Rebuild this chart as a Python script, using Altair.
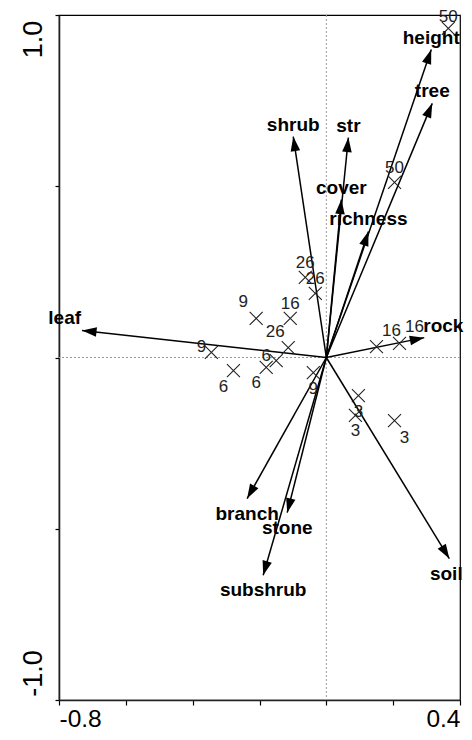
import altair as alt
import pandas as pd

# ---------------- data ----------------
arrow_names = ["height", "tree", "shrub", "str", "cover", "richness",
               "leaf", "rock", "branch", "stone", "subshrub", "soil"]
arrow_x = [0.314, 0.317, -0.099, 0.066, 0.045, 0.126,
           -0.731, 0.293, -0.237, -0.117, -0.189, 0.368]
arrow_y = [0.899, 0.742, 0.645, 0.642, 0.461, 0.368,
           0.079, 0.058, -0.412, -0.453, -0.636, -0.587]
arrow_label_side = ["above", "above", "above", "above", "above", "above",
                    "left", "right", "below", "below", "below", "below_left"]

site_x = [0.365, 0.204, -0.063, -0.033, -0.210, -0.108, -0.114, -0.344, -0.150,
          -0.180, -0.278, -0.039, 0.150, 0.219, 0.096, 0.087, 0.204]
site_y = [0.961, 0.511, 0.234, 0.187, 0.114, 0.114, 0.029, 0.015, -0.009,
          -0.029, -0.038, -0.044, 0.032, 0.041, -0.111, -0.169, -0.184]
site_label = ["50", "50", "26", "26", "9", "16", "26", "9", "6",
              "6", "6", "9", "16", "16", "3", "3", "3"]
site_label_side = ["n", "N", "N", "N", "NW", "N", "NW", "W", "W",
                   "SW", "SW", "S", "NE", "NE", "S", "S", "SE"]

x_ticks = [-0.8, -0.6, -0.4, -0.2, 0.0, 0.2, 0.4]
x_tick_labels = ["-0.8", "", "", "", "", "", "0.4"]
y_ticks = [-1.0, -0.5, 0.0, 0.5, 1.0]
y_tick_labels = ["-1.0", "", "", "", "1.0"]

# ---------------- layout / style ----------------
W, H = 401, 685
XDOM = [x_ticks[0], x_ticks[-1]]
YDOM = [y_ticks[0], y_ticks[-1]]
FONT = "Liberation Sans"

arrows = pd.DataFrame({"name": arrow_names, "x": arrow_x, "y": arrow_y,
                       "side": arrow_label_side})
arrows["x0"] = 0.0
arrows["y0"] = 0.0
sites = pd.DataFrame({"x": site_x, "y": site_y, "label": site_label,
                      "side": site_label_side})
zero = pd.DataFrame({"z": [0.0]})


def lab_expr(ticks, labels):
    expr = "''"
    for t, l in zip(ticks, labels):
        if l:
            expr = f"abs(datum.value - ({t})) < 1e-6 ? '{l}' : ({expr})"
    return expr


xaxis = alt.Axis(values=x_ticks, labelExpr=lab_expr(x_ticks, x_tick_labels),
                 tickSize=5, tickColor="black", tickWidth=1.2,
                 domainColor="#222", domainWidth=1.6,
                 labelFont=FONT, labelFontSize=24.5, labelColor="black",
                 labelFlush=True, labelPadding=2, labelOverlap=False, grid=False)
yaxis = alt.Axis(values=y_ticks, labelExpr=lab_expr(y_ticks, y_tick_labels),
                 tickSize=4, tickColor="black", tickWidth=1.2,
                 domainColor="#222", domainWidth=1.6,
                 labelFont=FONT, labelFontSize=27, labelColor="black",
                 labelAngle=270, labelAlign="center", labelBaseline="bottom",
                 labelPadding=8, labelOverlap=False, grid=False,
                 labelOffset={"condition": {"test": "datum.value > 0", "value": 24},
                              "value": -27})

xscale = alt.Scale(domain=XDOM, nice=False, zero=False)
yscale = alt.Scale(domain=YDOM, nice=False, zero=False)


def X(f):
    return alt.X(f, type="quantitative", scale=xscale, axis=xaxis, title=None)


def Y(f):
    return alt.Y(f, type="quantitative", scale=yscale, axis=yaxis, title=None)


vzero = alt.Chart(zero).mark_rule(color="#999", strokeWidth=1, strokeDash=[2, 2]).encode(x=X("z"))
hzero = alt.Chart(zero).mark_rule(color="#999", strokeWidth=1, strokeDash=[2, 2]).encode(y=Y("z"))

lines = alt.Chart(arrows).mark_rule(color="black", strokeWidth=1.5).encode(
    x=X("x0"), y=Y("y0"), x2="x", y2="y")

HEAD = "M0,0L-0.33,1L0.33,1Z"
sx = W / (XDOM[1] - XDOM[0])
sy = H / (YDOM[1] - YDOM[0])
heads = alt.Chart(arrows).transform_calculate(
    ang=f"(atan2(datum.x*{sx}, datum.y*{sy})*180/PI + 360) % 360"
).mark_point(shape=HEAD, filled=True, size=841, color="black", opacity=1,
             strokeWidth=0).encode(x=X("x"), y=Y("y"),
                                   angle=alt.Angle("ang:Q", scale=None))

arrow_side_style = {
    "above": dict(align="center", dx=0, dy=-12),
    "below": dict(align="center", dx=0, dy=15),
    "below_left": dict(align="center", dx=-3, dy=15),
    "left": dict(align="right", dx=-1, dy=-12),
    "right": dict(align="left", dx=-1, dy=-12),
}
arrow_labels = []
for side, st in arrow_side_style.items():
    arrow_labels.append(
        alt.Chart(arrows).transform_filter(alt.datum.side == side).mark_text(
            font=FONT, fontSize=19, fontWeight="bold", color="black",
            baseline="middle", **st
        ).encode(x=X("x"), y=Y("y"), text="name:N"))

CROSS = "M-1,-1L1,1M-1,1L1,-1"
markers = alt.Chart(sites).mark_point(shape=CROSS, size=169, filled=False,
                                      color="#222", strokeWidth=1.1, opacity=1).encode(
    x=X("x"), y=Y("y"))

site_side_style = {
    "n": dict(dx=0, dy=-11),
    "N": dict(dx=0, dy=-14),
    "NW": dict(dx=-13, dy=-16),
    "W": dict(dx=-10, dy=-5),
    "SW": dict(dx=-10, dy=16),
    "S": dict(dx=0, dy=16),
    "NE": dict(dx=15, dy=-16),
    "SE": dict(dx=10, dy=17),
}
site_labels = []
for side, st in site_side_style.items():
    site_labels.append(
        alt.Chart(sites).transform_filter(alt.datum.side == side).mark_text(
            font=FONT, fontSize=17, color="#222", align="center",
            baseline="middle", **st
        ).encode(x=X("x"), y=Y("y"), text="label:N"))

chart = alt.layer(vzero, hzero, lines, heads, *arrow_labels, markers, *site_labels).properties(
    width=W, height=H,
    autosize=alt.AutoSizeParams(type="none"),
    padding={"left": 51, "top": 7, "right": 4, "bottom": 32},
    background="white",
).configure_view(stroke="black", strokeWidth=1.2)

chart.save("out.html", embed_options={"renderer": "svg", "actions": False})
